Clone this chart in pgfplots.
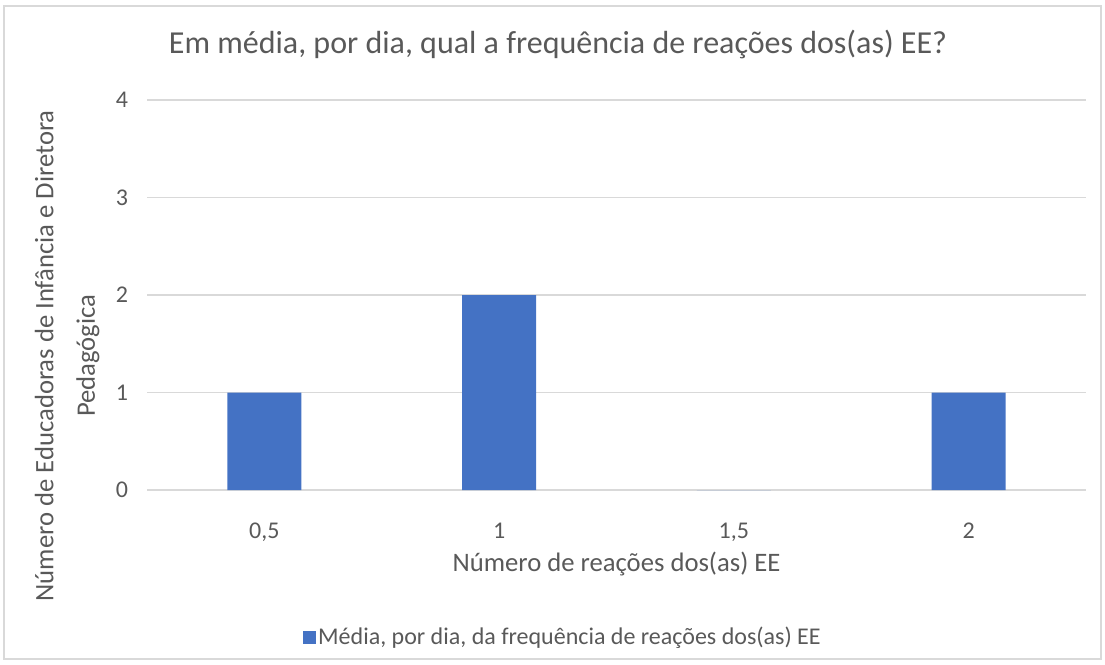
\documentclass[border=0pt]{standalone}
\usepackage{fontspec}
\setmainfont{Carlito}
\usepackage{pgfplots}
\pgfplotsset{compat=1.18}
\definecolor{barblue}{HTML}{4472C4}
\definecolor{txt}{HTML}{595959}
\definecolor{gridc}{HTML}{D9D9D9}
\begin{document}
\begin{tikzpicture}[x=0.75pt,y=0.75pt]
\useasboundingbox (0,0) rectangle (1105,664);
\draw[gridc, line width=1.2pt] (4,5) rectangle (1101,658);
\node[txt, font=\fontsize{24}{28}\selectfont, anchor=base] at (558,664-54) {Em média, por dia, qual a frequência de reações dos(as) EE?};
\coordinate (O) at (147,174);
\begin{axis}[
  at={(O)}, anchor=south west,
  scale only axis, width=704.25pt, height=292.5pt,
  xmin=-0.5, xmax=3.5, ymin=0, ymax=4,
  ybar, bar width=55.5pt,
  xtick={0,1,2,3}, xticklabels={{0,5},1,{1,5},2},
  ytick={0,1,2,3,4},
  axis line style={draw=none},
  axis x line*=bottom,
  x axis line style={draw=gridc, line width=1pt},
  tick style={draw=none},
  ymajorgrids, grid style={gridc, line width=1pt},
  /pgf/number format/assume math mode=true,
  ticklabel style={txt, font=\fontsize{18}{21}\selectfont},
  yticklabel style={inner sep=0pt, xshift=-14pt},
  xticklabel style={inner sep=0pt, yshift=-20pt},
  xlabel={Número de reações dos(as) EE},
  xlabel style={txt, font=\fontsize{20}{24}\selectfont, at={(axis description cs:0.5,-0.19)}, anchor=center},
  ylabel={Número de Educadoras de Infância e Diretora\\Pedagógica},
  ylabel style={txt, font=\fontsize{20}{31}\selectfont, align=center, at={(axis description cs:-0.085,0.344)}, anchor=center, rotate=0},
  legend style={draw=none, fill=none, at={(axis description cs:0.443,-0.377)}, anchor=center, font=\fontsize{18}{21}\selectfont, text=txt, inner sep=0pt, legend cell align=left},
  legend image code/.code={\fill[barblue] (0pt,-4.9pt) rectangle (9.75pt,4.9pt);},
  clip=false,
]
\addplot[fill=barblue, draw=none] coordinates {(0,1) (1,2) (2,0) (3,1)};
\addlegendentry{Média, por dia, da frequência de reações dos(as) EE}
\end{axis}
\end{tikzpicture}
\end{document}
